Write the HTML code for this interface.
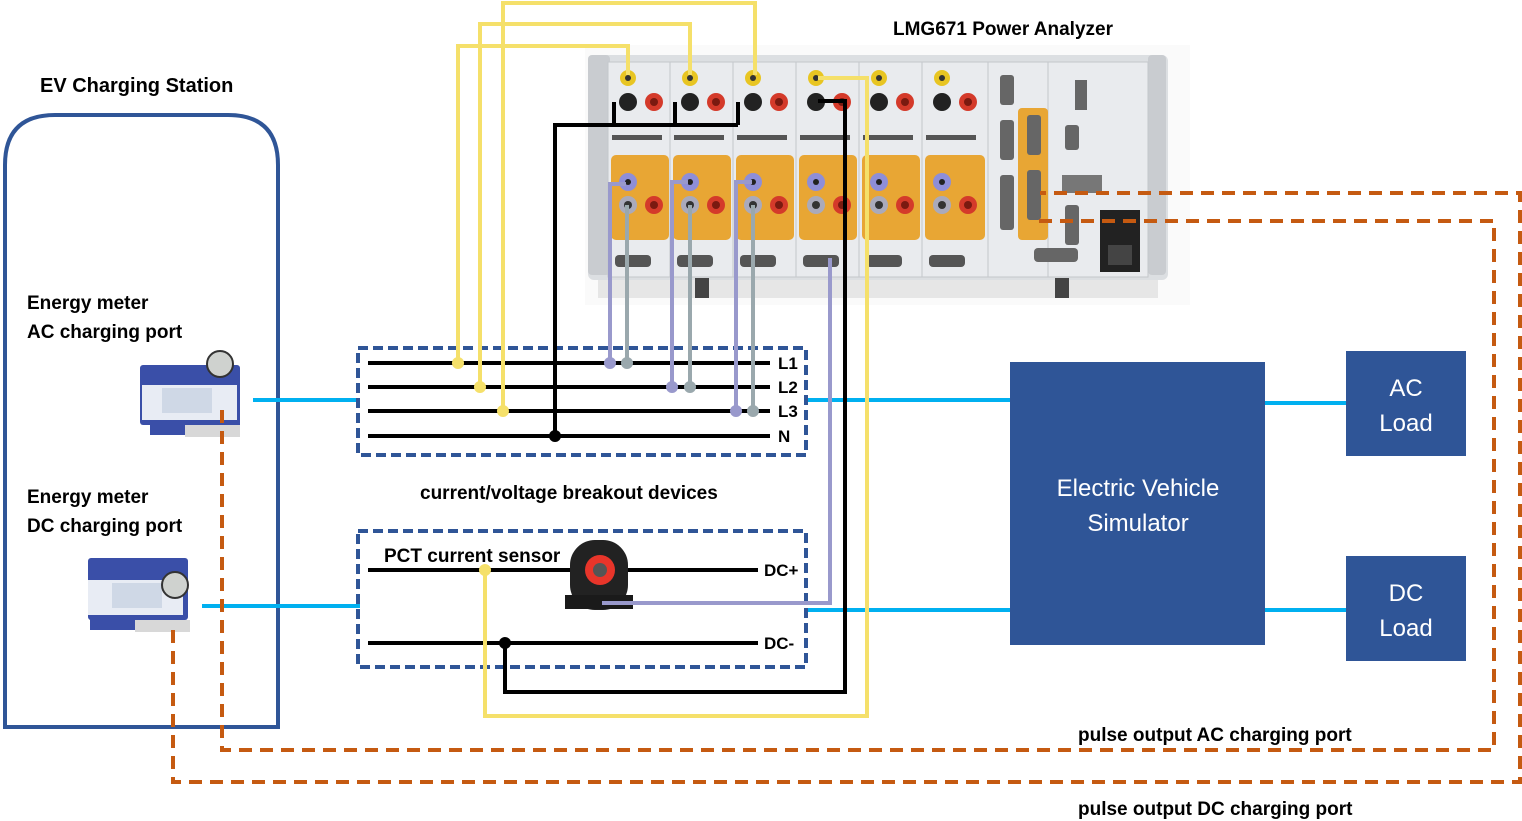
<!DOCTYPE html>
<html><head><meta charset="utf-8"><style>
html,body{margin:0;padding:0;background:#fff}
svg{display:block}
text{font-family:"Liberation Sans",sans-serif}
</style></head><body>
<svg width="1522" height="821" viewBox="0 0 1522 821" xmlns="http://www.w3.org/2000/svg">
<!-- Power analyzer -->
<g>
<rect x="585" y="45" width="605" height="260" fill="#fafafa"/>
<rect x="588" y="55" width="580" height="225" rx="6" fill="#dcdfe2"/>
<rect x="588" y="55" width="22" height="220" rx="4" fill="#c9ccd0"/>
<rect x="1148" y="55" width="18" height="220" rx="4" fill="#c9ccd0"/>
<rect x="598" y="280" width="560" height="18" fill="#e6e6e6"/>
<rect x="695" y="278" width="14" height="20" fill="#444"/>
<rect x="1055" y="278" width="14" height="20" fill="#444"/>
<g fill="#e9ebee" stroke="#c4c7cb" stroke-width="1">
<rect x="608" y="62" width="62" height="215"/><rect x="670" y="62" width="63" height="215"/><rect x="733" y="62" width="63" height="215"/><rect x="796" y="62" width="63" height="215"/><rect x="859" y="62" width="63" height="215"/><rect x="922" y="62" width="66" height="215"/><rect x="988" y="62" width="60" height="215"/><rect x="1048" y="62" width="100" height="215"/>
</g>
<g fill="#e8a634">
<rect x="611" y="155" width="58" height="85" rx="5"/><rect x="673" y="155" width="58" height="85" rx="5"/><rect x="736" y="155" width="58" height="85" rx="5"/><rect x="799" y="155" width="58" height="85" rx="5"/><rect x="862" y="155" width="58" height="85" rx="5"/><rect x="925" y="155" width="60" height="85" rx="5"/><rect x="1018" y="108" width="30" height="132" rx="4"/>
</g>
<g>
<g id="ch">
<circle cx="628" cy="78" r="8" fill="#e8c522"/><circle cx="628" cy="78" r="3" fill="#333"/>
<circle cx="628" cy="102" r="9" fill="#222"/><circle cx="654" cy="102" r="9" fill="#d43a2a"/><circle cx="654" cy="102" r="4" fill="#7a1a10"/>
<circle cx="628" cy="182" r="9" fill="#8e8ed8"/><circle cx="628" cy="182" r="3" fill="#222"/>
<circle cx="628" cy="205" r="9" fill="#aab"/><circle cx="628" cy="205" r="4" fill="#333"/>
<circle cx="654" cy="205" r="9" fill="#d43a2a"/><circle cx="654" cy="205" r="4" fill="#7a1a10"/>
<rect x="615" y="255" width="36" height="12" rx="4" fill="#555"/>
<rect x="612" y="135" width="50" height="5" fill="#555"/>
</g>
<use href="#ch" x="62"/><use href="#ch" x="125"/><use href="#ch" x="188"/><use href="#ch" x="251"/><use href="#ch" x="314"/>
</g>
<rect x="1000" y="75" width="14" height="30" rx="3" fill="#666"/><rect x="1000" y="120" width="14" height="40" rx="3" fill="#666"/><rect x="1000" y="175" width="14" height="55" rx="3" fill="#666"/>
<rect x="1027" y="115" width="14" height="40" rx="3" fill="#666"/><rect x="1027" y="170" width="14" height="50" rx="3" fill="#666"/>
<rect x="1075" y="80" width="12" height="30" fill="#666"/><rect x="1065" y="125" width="14" height="25" rx="3" fill="#666"/>
<rect x="1062" y="175" width="40" height="18" fill="#777"/><rect x="1065" y="205" width="14" height="40" rx="3" fill="#666"/>
<rect x="1100" y="210" width="40" height="62" fill="#222"/><rect x="1108" y="245" width="24" height="20" fill="#444"/>
<rect x="1034" y="248" width="44" height="14" rx="4" fill="#666"/>
</g>
<!-- EV station -->
<path d="M5 727 V165 Q5 115 55 115 H228 Q278 115 278 165 V727 Z" fill="none" stroke="#2F5597" stroke-width="4"/>
<!-- meters -->
<g>
<rect x="138" y="357" width="106" height="80" fill="#fff"/>
<rect x="140" y="365" width="100" height="60" rx="3" fill="#3a4fa8"/>
<rect x="142" y="385" width="95" height="35" fill="#e8ecf4"/><rect x="162" y="388" width="50" height="25" fill="#cfd8e6"/>
<rect x="150" y="420" width="90" height="15" fill="#3a4fa8"/><rect x="185" y="425" width="55" height="12" fill="#d8d8d8"/>
<circle cx="220" cy="364" r="13" fill="#cfd2cf" stroke="#333" stroke-width="2"/>
</g>
<g>
<rect x="80" y="552" width="116" height="85" fill="#fff"/>
<rect x="88" y="558" width="100" height="62" rx="3" fill="#3a4fa8"/>
<rect x="88" y="580" width="95" height="35" fill="#e8ecf4"/><rect x="112" y="583" width="50" height="25" fill="#cfd8e6"/>
<rect x="90" y="615" width="95" height="15" fill="#3a4fa8"/><rect x="135" y="620" width="55" height="12" fill="#d8d8d8"/>
<circle cx="175" cy="585" r="13" fill="#cfd2cf" stroke="#333" stroke-width="2"/>
</g>
<g stroke="#00B0F0" stroke-width="4">
<line x1="253" y1="400" x2="360" y2="400"/><line x1="805" y1="400" x2="1010" y2="400"/>
<line x1="202" y1="606" x2="360" y2="606"/><line x1="805" y1="610" x2="1010" y2="610"/>
<line x1="1265" y1="403" x2="1346" y2="403"/><line x1="1265" y1="610" x2="1346" y2="610"/>
</g>
<rect x="358" y="348" width="448" height="107" fill="none" stroke="#2F5597" stroke-width="4" stroke-dasharray="10,5"/>
<rect x="358" y="531" width="448" height="136" fill="none" stroke="#2F5597" stroke-width="4" stroke-dasharray="10,5"/>
<g stroke="#000" stroke-width="4">
<line x1="368" y1="363" x2="770" y2="363"/><line x1="368" y1="387" x2="770" y2="387"/><line x1="368" y1="411" x2="770" y2="411"/><line x1="368" y1="436" x2="770" y2="436"/>
<line x1="368" y1="570" x2="758" y2="570"/><line x1="368" y1="643" x2="758" y2="643"/>
</g>
<g font-weight="bold" font-size="17" fill="#000">
<text x="778" y="369">L1</text><text x="778" y="393">L2</text><text x="778" y="417">L3</text><text x="778" y="442">N</text>
<text x="764" y="576">DC+</text><text x="764" y="649">DC-</text>
</g>
<rect x="570" y="540" width="58" height="70" rx="25" fill="#222"/>
<rect x="565" y="595" width="68" height="14" fill="#1a1a1a"/>
<circle cx="600" cy="570" r="15" fill="#e8352a"/><circle cx="600" cy="570" r="7" fill="#555"/>
<g fill="none" stroke="#000" stroke-width="4">
<polyline points="555,436 555,125 738,125"/>
<line x1="614" y1="102" x2="614" y2="125"/><line x1="675" y1="102" x2="675" y2="125"/><line x1="738" y1="102" x2="738" y2="125"/>
<polyline points="818,101 845,101 845,692 505,692 505,643"/>
</g>
<circle cx="555" cy="436" r="6"/><circle cx="505" cy="643" r="6"/>
<g fill="none" stroke-width="4">
<polyline stroke="#9999cc" points="610,362 610,184 626,184"/>
<polyline stroke="#9999cc" points="672,387 672,182 688,182"/>
<polyline stroke="#9999cc" points="736,411 736,182 752,182"/>
<polyline stroke="#9aa8ad" points="627,362 627,205"/>
<polyline stroke="#9aa8ad" points="690,387 690,205"/>
<polyline stroke="#9aa8ad" points="753,411 753,205"/>
<polyline stroke="#9999cc" points="830,258 830,603 602,603"/>
</g>
<circle cx="610" cy="363" r="6" fill="#9999cc"/><circle cx="627" cy="363" r="6" fill="#9aa8ad"/>
<circle cx="672" cy="387" r="6" fill="#9999cc"/><circle cx="690" cy="387" r="6" fill="#9aa8ad"/>
<circle cx="736" cy="411" r="6" fill="#9999cc"/><circle cx="753" cy="411" r="6" fill="#9aa8ad"/>
<g fill="none" stroke="#f5e06a" stroke-width="4">
<polyline points="458,362 458,46 628,46 628,75"/>
<polyline points="480,387 480,24 690,24 690,75"/>
<polyline points="503,411 503,3 755,3 755,75"/>
<polyline points="818,78 867,78 867,716 485,716 485,570"/>
</g>
<circle cx="458" cy="363" r="6" fill="#f5e06a"/><circle cx="480" cy="387" r="6" fill="#f5e06a"/><circle cx="503" cy="411" r="6" fill="#f5e06a"/><circle cx="485" cy="570" r="6" fill="#f5e06a"/>
<g fill="none" stroke="#C55A11" stroke-width="4" stroke-dasharray="13,8">
<polyline points="222,410 222,750 1494,750 1494,221 1035,221"/>
<polyline points="173,630 173,782 1520,782 1520,193 1040,193"/>
</g>
<rect x="1010" y="362" width="255" height="283" fill="#2F5597"/>
<rect x="1346" y="351" width="120" height="105" fill="#2F5597"/>
<rect x="1346" y="556" width="120" height="105" fill="#2F5597"/>
<g fill="#fff" font-size="24" text-anchor="middle">
<text x="1138" y="496">Electric Vehicle</text><text x="1138" y="531">Simulator</text>
<text x="1406" y="396">AC</text><text x="1406" y="431">Load</text>
<text x="1406" y="601">DC</text><text x="1406" y="636">Load</text>
</g>
<g font-size="19" fill="#000" font-weight="bold">
<text x="40" y="92" font-size="20">EV Charging Station</text>
<text x="893" y="35">LMG671 Power Analyzer</text>
<text x="27" y="309">Energy meter</text><text x="27" y="338">AC charging port</text>
<text x="27" y="503">Energy meter</text><text x="27" y="532">DC charging port</text>
<text x="420" y="499">current/voltage breakout devices</text>
<text x="384" y="562">PCT current sensor</text>
<text x="1078" y="741">pulse output AC charging port</text>
<text x="1078" y="815">pulse output DC charging port</text>
</g>
</svg>
</body></html>
